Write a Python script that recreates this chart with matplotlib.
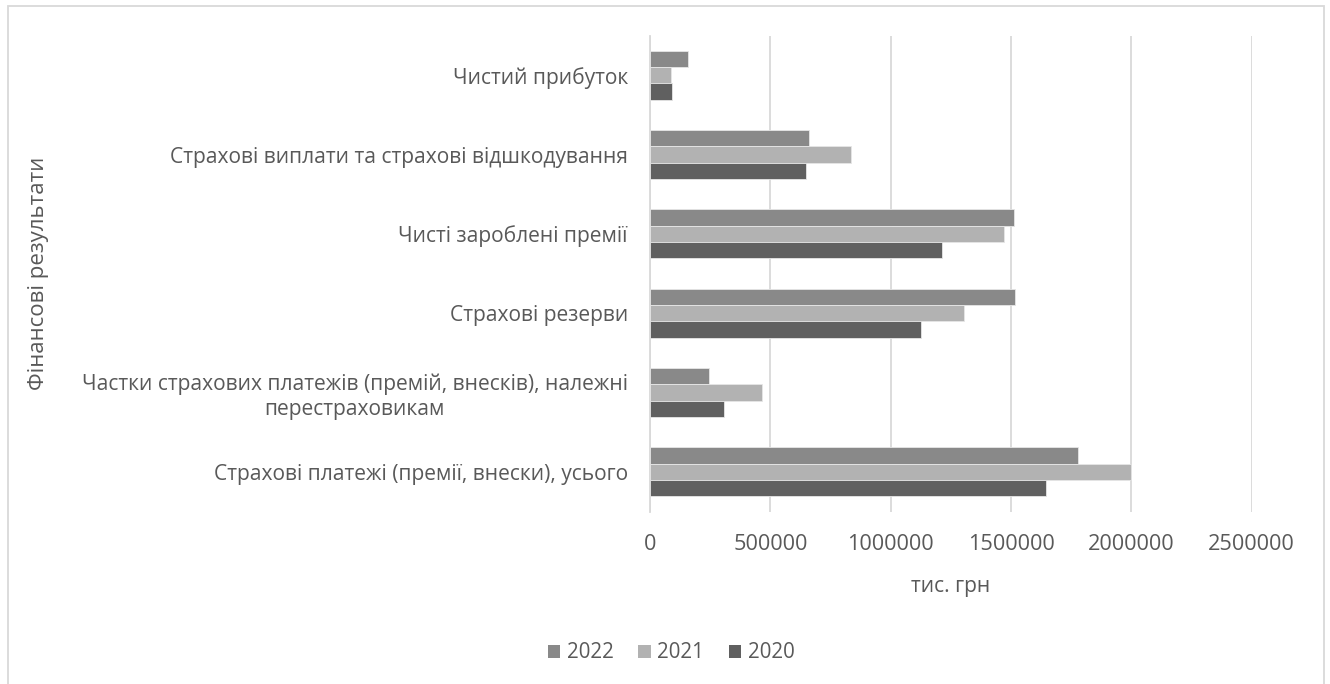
import matplotlib
matplotlib.use("Agg")
import matplotlib.pyplot as plt
import numpy as np
from matplotlib.patches import Rectangle, Patch

plt.rcParams['font.family'] = ['Open Sans', 'DejaVu Sans']

categories = [
    "Страхові платежі (премії, внески), усього",
    "Частки страхових платежів (премій, внесків), належні\nперестраховикам",
    "Страхові резерви",
    "Чисті зароблені премії",
    "Страхові виплати та страхові відшкодування",
    "Чистий прибуток",
]
years = ["2022", "2021", "2020"]
v2022 = [1779000, 244000, 1518000, 1512000, 659000, 159000]
v2021 = [2000000, 467000, 1305000, 1471000, 835000, 86000]
v2020 = [1646000, 309000, 1127000, 1212000, 650000, 93000]
xticks = [0, 500000, 1000000, 1500000, 2000000, 2500000]

colors = {"2022": "#898989", "2021": "#b2b2b2", "2020": "#606060"}
text_color = "#595959"
grid_color = "#d9d9d9"

W, H = 1330, 684
fig = plt.figure(figsize=(W / 100, H / 100), dpi=100)
ax = fig.add_axes([650 / W, 1 - 511.6 / H, (1251.7 - 650) / W, (511.6 - 35.6) / H])

y = np.arange(len(categories))
bh = 0.2057
series = {"2022": v2022, "2021": v2021, "2020": v2020}
offsets = {"2022": bh, "2021": 0.0, "2020": -bh}
for yr in years:
    ax.barh(y + offsets[yr], series[yr], height=bh, color=colors[yr],
            edgecolor="#e6e6e6", linewidth=0.6, zorder=3)

ax.set_ylim(-0.5, len(categories) - 0.5)
ax.set_xlim(0, 2500000)
ax.set_xticks(xticks)
ax.set_xticklabels([str(t) for t in xticks])
ax.set_yticks(y)
ax.set_yticklabels(categories)
for lbl in ax.get_yticklabels():
    lbl.set_multialignment("center")

ax.grid(axis="x", color=grid_color, linewidth=1.3, zorder=0)
ax.set_axisbelow(True)
for s in ["top", "right", "bottom"]:
    ax.spines[s].set_visible(False)
ax.spines["left"].set_color(grid_color)
ax.spines["left"].set_linewidth(1.3)
ax.tick_params(axis="y", length=0, colors=text_color, labelsize=15.1, pad=16)
ax.tick_params(axis="x", length=0, colors=text_color, labelsize=15.6, pad=16)

ax.set_xlabel("тис. грн", fontsize=15.1, color=text_color, labelpad=15)
fig.text(39 / W, 1 - 273.6 / H, "Фінансові результати", rotation=90,
         ha="center", va="center", fontsize=16, color=text_color)

handles = [Patch(facecolor=colors[yr], edgecolor="none", label=yr) for yr in years]
leg = fig.legend(handles=handles, loc="center", bbox_to_anchor=(671 / W, 1 - 653 / H),
                 ncol=3, frameon=False, fontsize=14.8, handlelength=0.62,
                 handleheight=0.62, handletextpad=0.3, columnspacing=1.2)
for t in leg.get_texts():
    t.set_color(text_color)

fig.patches.append(Rectangle((8 / W, -0.05), (1324 - 8) / W, 1.05 - 6 / H,
                             transform=fig.transFigure, fill=False,
                             edgecolor=grid_color, linewidth=1.3))

fig.savefig("out.png", dpi=100, facecolor="white")
